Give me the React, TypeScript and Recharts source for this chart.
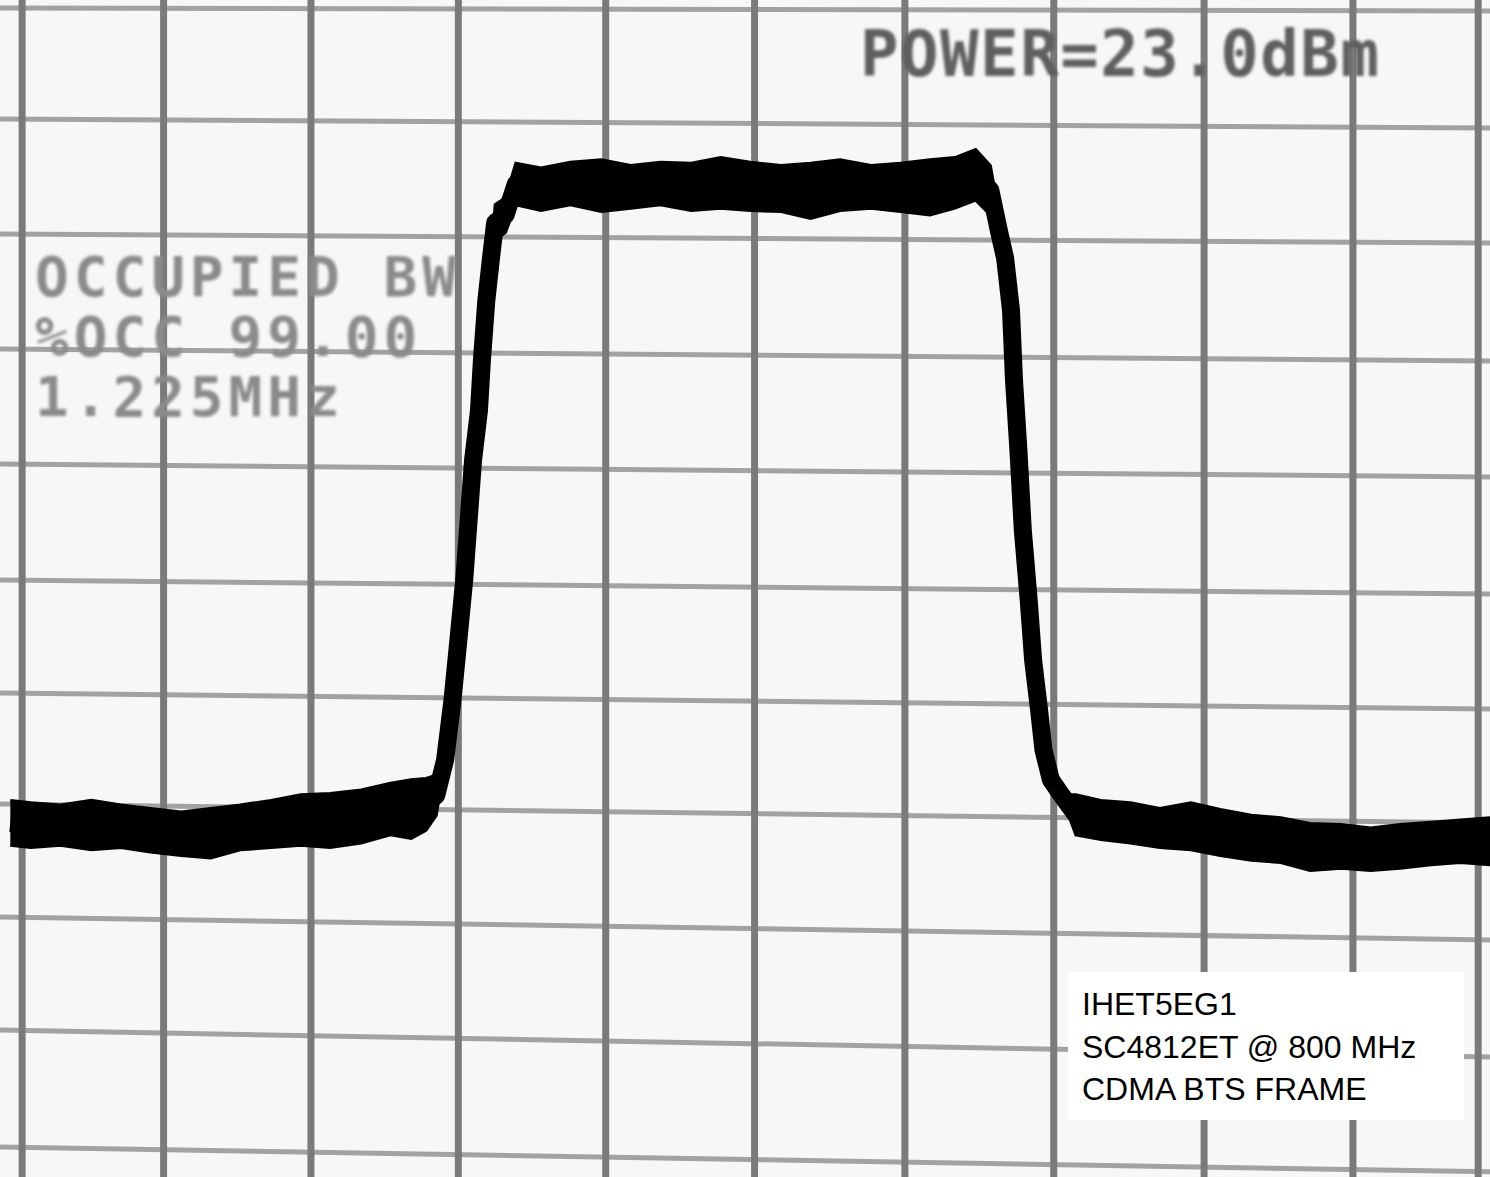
import React from "react";
import { ComposedChart, Area, Line, XAxis, YAxis, ReferenceLine } from "recharts";

// frequency offset from centre, in graticule divisions
const FREQ_DIV = [
  -5.05, -4.91, -4.71, -4.5, -4.3, -4.1, -3.89, -3.69, -3.49, -3.28, -3.08, -2.88, -2.67, -2.47, -2.33, -2.23, -2.16,
  -2.1, -2.05, -2.01, -1.97, -1.94, -1.91, -1.87, -1.85, -1.82, -1.79, -1.76, -1.69,
  -1.62, -1.45, -1.25, -1.04, -0.84, -0.64, -0.43, -0.23, -0.03, 0.18, 0.38, 0.58, 0.79, 0.99, 1.19, 1.36, 1.5, 1.6,
  1.66, 1.7, 1.74, 1.76, 1.79, 1.82, 1.86, 1.89, 1.93, 1.96, 2.01, 2.08,
  2.18, 2.35, 2.55, 2.75, 2.96, 3.16, 3.37, 3.57, 3.77, 3.98, 4.18, 4.38, 4.59, 4.79, 4.99,
];

// upper and lower edge of the trace, dB below reference
const TRACE_TOP = [
  -68.9, -69.1, -69.3, -68.9, -69.3, -69.6, -69.9, -69.6, -69.3, -68.9, -68.4, -68.3, -68.0, -67.4, -67.1, -67.0, -66.7,
  -65.4, -60.2, -55.0, -49.7, -44.5, -39.3, -35.0, -30.6, -25.4, -21.9, -17.1, -16.5,
  -13.5, -13.9, -13.4, -13.2, -13.7, -13.4, -13.5, -13.0, -13.4, -13.7, -13.5, -13.2, -13.7, -13.5, -13.2, -13.0, -12.3, -13.7,
  -18.0, -20.0, -26.3, -32.3, -38.4, -45.4, -51.5, -56.7, -61.0, -64.5, -67.1, -68.4,
  -68.4, -68.9, -69.1, -69.6, -69.1, -69.7, -70.2, -70.4, -70.9, -71.0, -71.3, -71.0, -70.8, -70.6, -70.4,
];

const TRACE_BOTTOM = [
  -72.8, -73.0, -72.8, -73.2, -73.0, -73.4, -73.7, -73.9, -73.2, -73.0, -72.8, -73.0, -72.6, -71.9, -72.2, -71.5, -70.2,
  -65.4, -60.2, -55.0, -49.7, -44.5, -39.3, -35.0, -30.6, -25.4, -21.9, -20.2, -19.5,
  -17.1, -17.6, -17.1, -17.7, -17.4, -17.1, -17.6, -17.4, -17.6, -17.7, -18.3, -17.6, -17.4, -17.7, -18.0, -17.4, -16.7, -18.0,
  -21.0, -23.5, -26.3, -32.3, -38.4, -45.4, -51.5, -56.7, -61.0, -64.5, -67.1, -68.4,
  -71.9, -72.3, -72.6, -73.0, -73.2, -73.7, -74.1, -74.3, -75.0, -74.8, -75.0, -74.8, -74.5, -74.3, -74.5,
];

// graticule (photo is slightly skewed, so horizontal lines have left/right levels)
const GRID_X = [-4.97, -4.01, -3.01, -2.01, -1.01, 0, 1.02, 2.03, 3.05, 4.06, 4.91];
const GRID_Y_LEFT = [0, -9.65, -19.65, -29.65, -39.65, -49.74, -59.57, -69.22, -79.04, -88.87, -99.04];
const GRID_Y_RIGHT = [-0.26, -10.43, -20.43, -30.7, -40.78, -50.96, -60.96, -70.87, -81.04, -91.22, -101.2];

const X_MIN = -5.12;
const X_MAX = 4.99;
const Y_MIN = -101.65;
const Y_MAX = 0.7;

const OCC_LINES = ["OCCUPIED BW", "%OCC 99.00", "1.225MHz"];
const POWER_TEXT = "POWER=23.0dBm";
const LABEL_LINES = ["IHET5EG1", "SC4812ET @ 800 MHz", "CDMA BTS FRAME"];

const W = 1490;
const H = 1177;

const rows = FREQ_DIV.map((f, i) => ({
  f,
  band: [TRACE_BOTTOM[i], TRACE_TOP[i]],
  mid: (TRACE_TOP[i] + TRACE_BOTTOM[i]) / 2,
}));

export default function App() {
  return (
    <div style={{ position: "absolute", left: 0, top: 0, width: W, height: H, background: "#f7f7f7", overflow: "hidden" }}>
      <ComposedChart width={W} height={H} data={rows} margin={{ top: 0, right: 0, bottom: 0, left: 0 }}>
        <XAxis dataKey="f" type="number" domain={[X_MIN, X_MAX]} allowDataOverflow hide />
        <YAxis type="number" domain={[Y_MIN, Y_MAX]} allowDataOverflow hide width={0} />
        {GRID_Y_LEFT.map((l, i) => (
          <ReferenceLine
            key={"h" + i}
            segment={[{ x: X_MIN, y: l }, { x: X_MAX, y: GRID_Y_RIGHT[i] }]}
            stroke="#a2a2a2"
            strokeWidth={5}
            zIndex={-60}
          />
        ))}
        {GRID_X.map((v, i) => (
          <ReferenceLine key={"v" + i} x={v} stroke="#7a7a7a" strokeWidth={7} zIndex={-50} />
        ))}
        <Area
          dataKey="band"
          type="linear"
          stroke="#000"
          strokeWidth={3}
          fill="#000"
          fillOpacity={1}
          dot={false}
          activeDot={false}
          isAnimationActive={false}
        />
        <Line
          dataKey="mid"
          type="linear"
          stroke="#000"
          strokeWidth={18}
          strokeLinejoin="round"
          dot={false}
          activeDot={false}
          isAnimationActive={false}
        />
      </ComposedChart>
      <svg width={W} height={H} style={{ position: "absolute", left: 0, top: 0, pointerEvents: "none" }}>
        <defs>
          <filter id="soft">
            <feGaussianBlur stdDeviation="1.6" />
          </filter>
        </defs>
        <text
          x={860}
          y={76}
          fontFamily="DejaVu Sans Mono"
          fontWeight="bold"
          fontSize={64}
          letterSpacing={1.5}
          fill="#5e5e5e"
          filter="url(#soft)"
        >
          {POWER_TEXT}
        </text>
        {OCC_LINES.map((t, i) => (
          <text
            key={t}
            x={35}
            y={296 + i * 60}
            fontFamily="DejaVu Sans Mono"
            fontWeight="bold"
            fontSize={56}
            letterSpacing={5}
            fill="#8a8a8a"
            filter="url(#soft)"
          >
            {t}
          </text>
        ))}
        <rect x={1068} y={972} width={396} height={148} fill="#fff" />
        {LABEL_LINES.map((t, i) => (
          <text key={t} x={1082} y={1015 + i * 42.5} fontFamily="Liberation Sans, Arial" fontSize={32} fill="#000">
            {t}
          </text>
        ))}
      </svg>
    </div>
  );
}
